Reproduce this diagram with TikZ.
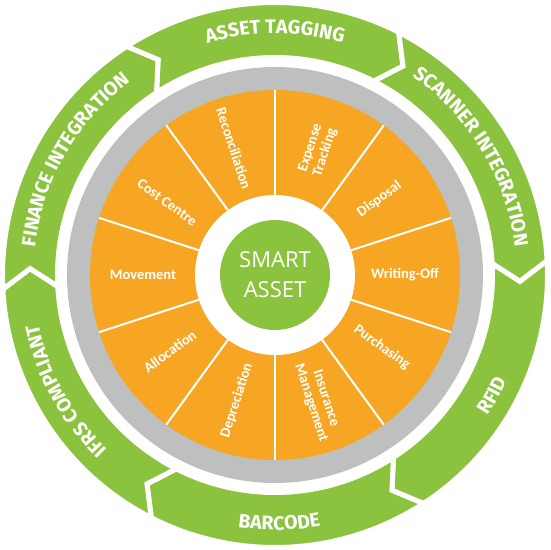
\documentclass[tikz,border=0pt]{standalone}
\usepackage{fontspec}
\setmainfont{Carlito}
\newfontfamily\ringfont{Fira Sans}
\newfontfamily\hubfont{Open Sans}
\usetikzlibrary{decorations.text}
\definecolor{ringgreen}{RGB}{139,195,63}
\definecolor{segorange}{RGB}{246,166,35}
\definecolor{rimgrey}{RGB}{190,192,191}

\begin{document}
\begin{tikzpicture}[x=1pt,y=1pt,
  band/.style={fill=ringgreen,draw=white,line width=5pt,line join=miter},
  seglabel/.style={text=white,font=\bfseries\fontsize{14.5}{15.5}\selectfont,align=center,inner sep=0pt},
  ringtext/.style={decorate,decoration={text along path,text align=center,text={|\ringfont\bfseries\fontsize{19.5}{20}\selectfont\color{white}|#1}}}]
\path[use as bounding box] (-275,-275) rectangle (275,275);

\foreach \c in {90,30,-30,-90,-150,150}
  \draw[band] (\c+33:272.5) arc[start angle=\c+33,end angle=\c-27,radius=272.5]
    -- (\c-31.5:245) -- (\c-27:217.5) arc[start angle=\c-27,end angle=\c+33,radius=217.5]
    -- (\c+28.5:245) -- cycle;

\path[ringtext=ASSET TAGGING] (120:241.5) arc[start angle=120,end angle=60,radius=241.5];
\path[ringtext=SCANNER INTEGRATION] (61:241.5) arc[start angle=61,end angle=1,radius=241.5];
\path[ringtext=FINANCE INTEGRATION] (180:241.5) arc[start angle=180,end angle=120,radius=241.5];
\path[ringtext=IFRS COMPLIANT] (-121:241.5) arc[start angle=-121,end angle=-181,radius=241.5];
\path[ringtext=RFID] (-59:255) arc[start angle=-59,end angle=1,radius=255];
\path[ringtext=BARCODE] (-119:255) arc[start angle=-119,end angle=-59,radius=255];

\fill[rimgrey] (0,0) circle[radius=208];
\fill[segorange] (0,0) circle[radius=185];
\foreach \a in {18,54,...,342}
  \draw[white,line width=2pt] (\a:80) -- (\a:185);
\fill[white] (0,0) circle[radius=80];
\fill[ringgreen] (0,0) circle[radius=55];

\node[seglabel,rotate=-72] (recon) at (108:133) {Reconciliation};
\node[seglabel,rotate=72] (expense) at (71:132) {Expense\\Tracking};
\node[seglabel,rotate=36] (disposal) at (36:129) {Disposal};
\node[seglabel] (writeoff) at (0:130) {Writing-Off};
\node[seglabel,rotate=-36] (purchase) at (-34:129) {Purchasing};
\node[seglabel,rotate=-72] (insurance) at (-71:133) {Insurance\\Management};
\node[seglabel,rotate=72] (deprec) at (-107:131) {Depreciation};
\node[seglabel,rotate=36] (alloc) at (-144:130) {Allocation};
\node[seglabel] (movement) at (180:132) {Movement};
\node[seglabel,rotate=-36] (costcentre) at (146:130) {Cost Centre};

\node[text=white,font=\hubfont\fontsize{22}{30}\selectfont,align=center,inner sep=0pt] (hub) at (0,0) {SMART\\ASSET};
\end{tikzpicture}
\end{document}
